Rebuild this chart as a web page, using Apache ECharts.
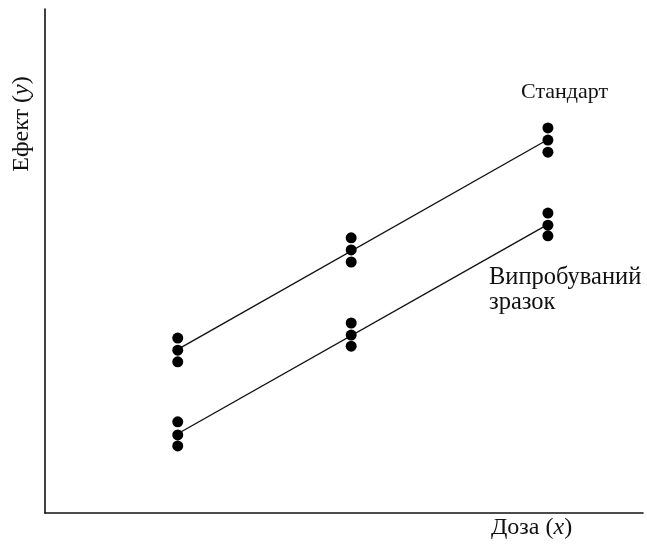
<!DOCTYPE html>
<html>
<head>
<meta charset="utf-8">
<script src="https://cdn.jsdelivr.net/npm/echarts@6/dist/echarts.min.js"></script>
<style>
  html, body { margin: 0; padding: 0; background: #fff; }
  #chart { width: 647px; height: 548px; }
</style>
</head>
<body>
<div id="chart"></div>
<script>
// Dose levels (arbitrary units on the x axis)
const doses = [2.22, 5.12, 8.41];

// Triplicate responses at each dose
const standardReplicates = [
  [34.7, 32.3, 30.0],
  [54.6, 52.2, 49.8],
  [76.4, 74.0, 71.6]
];
const testReplicates = [
  [18.1, 15.5, 13.3],
  [37.7, 35.3, 33.1],
  [59.5, 57.1, 55.0]
];

const labelStandard = 'Стандарт';
const labelTest = 'Випробуваний\nзразок';
// axis titles: plain word + italic variable symbol
const axisNameX = ['Доза', 'x'];
const axisNameY = ['Ефект', 'y'];

// Scatter points from replicate arrays
function toPoints(reps) {
  const pts = [];
  reps.forEach((row, i) => row.forEach(v => pts.push([doses[i], v])));
  return pts;
}

// Least-squares line through all replicates, drawn between outer doses
function fitLine(reps) {
  const pts = toPoints(reps);
  const n = pts.length;
  const mx = pts.reduce((s, p) => s + p[0], 0) / n;
  const my = pts.reduce((s, p) => s + p[1], 0) / n;
  let sxy = 0, sxx = 0;
  pts.forEach(p => { sxy += (p[0] - mx) * (p[1] - my); sxx += (p[0] - mx) ** 2; });
  const b = sxy / sxx, a = my - b * mx;
  const x0 = doses[0], x1 = doses[doses.length - 1];
  return [[x0, a + b * x0], [x1, a + b * x1]];
}

const serif = '"Liberation Serif", "DejaVu Serif", serif';
const richAxis = {
  n: { fontFamily: serif, fontSize: 24, fill: '#111' },
  i: { fontFamily: serif, fontSize: 24, fontStyle: 'italic', fill: '#111' }
};
function axisTitle(parts) {
  return '{n|' + parts[0] + ' (}{i|' + parts[1] + '}{n|)}';
}

const chart = echarts.init(document.getElementById('chart'));
chart.setOption({
  animation: false,
  backgroundColor: '#ffffff',
  grid: { left: 45, right: 4, top: 9, bottom: 35 },
  xAxis: {
    type: 'value', min: 0, max: 10,
    axisLine: { show: true, onZero: false, lineStyle: { color: '#111', width: 1.6 } },
    axisTick: { show: false }, axisLabel: { show: false }, splitLine: { show: false }
  },
  yAxis: {
    type: 'value', min: 0, max: 100,
    axisLine: { show: true, onZero: false, lineStyle: { color: '#111', width: 1.6 } },
    axisTick: { show: false }, axisLabel: { show: false }, splitLine: { show: false }
  },
  series: [
    {
      type: 'line', data: fitLine(standardReplicates), symbol: 'none',
      lineStyle: { color: '#111', width: 1.4 }, z: 2
    },
    {
      type: 'line', data: fitLine(testReplicates), symbol: 'none',
      lineStyle: { color: '#111', width: 1.4 }, z: 2
    },
    {
      type: 'scatter', data: toPoints(standardReplicates), symbolSize: 11,
      itemStyle: { color: '#000', opacity: 1 }, z: 3
    },
    {
      type: 'scatter', data: toPoints(testReplicates), symbolSize: 11,
      itemStyle: { color: '#000', opacity: 1 }, z: 3
    }
  ],
  graphic: [
    {
      type: 'text', left: 521, top: 81,
      style: { text: labelStandard, font: '22px ' + serif, fill: '#111' }
    },
    {
      type: 'text', left: 489, top: 265,
      style: { text: labelTest, font: '24.5px ' + serif, lineHeight: 25, fill: '#111' }
    },
    {
      type: 'text', left: 491, top: 516,
      style: { text: axisTitle(axisNameX), rich: richAxis }
    },
    {
      type: 'text', x: 22, y: 124, rotation: Math.PI / 2,
      style: { text: axisTitle(axisNameY), rich: richAxis, align: 'center', verticalAlign: 'middle' }
    }
  ]
});
</script>
</body>
</html>
